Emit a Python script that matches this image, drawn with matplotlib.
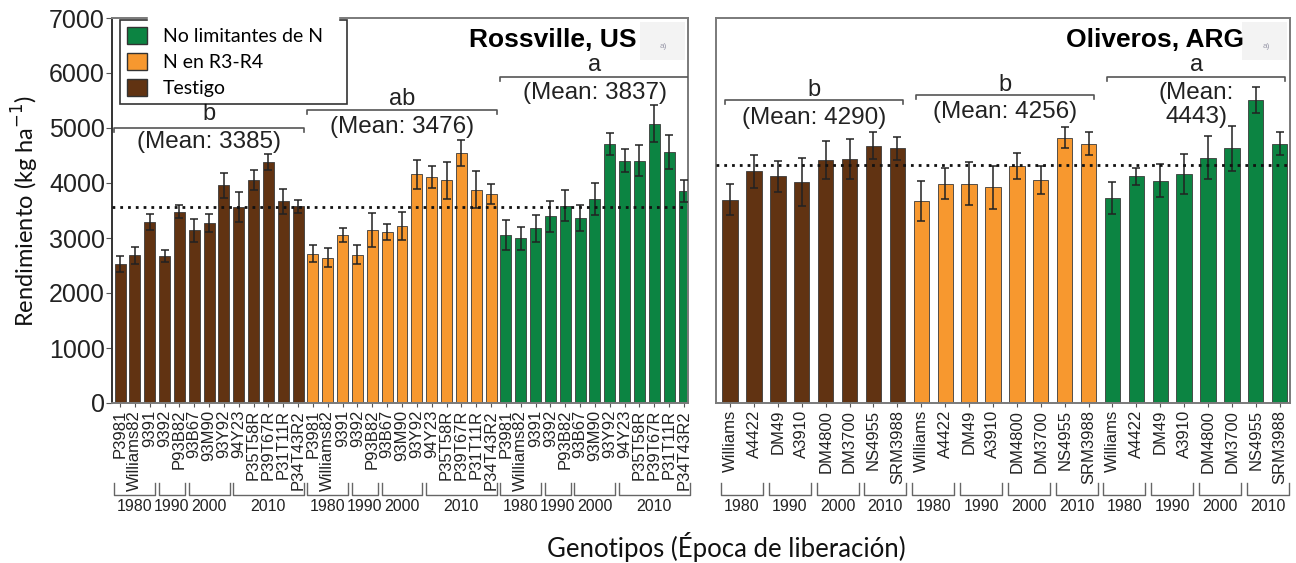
import matplotlib
matplotlib.use('Agg')
import matplotlib.pyplot as plt
import matplotlib.transforms as mtransforms
from matplotlib.patches import Patch, Rectangle

# ---- datos ----
tratamientos = ['Testigo', 'N en R3-R4', 'No limitantes de N']
colores = ['#613312', '#f7982f', '#0c8442']

genotipos_us = ['P3981', 'Williams82', '9391', '9392', 'P93B82', '93B67', '93M90',
                '93Y92', '94Y23', 'P35T58R', 'P39T67R', 'P31T11R', 'P34T43R2']
decadas_us = ['1980', '1990', '2000', '2010']
n_decada_us = [3, 2, 3, 5]
testigo_us = [2530, 2685, 3285, 2680, 3480, 3140, 3275, 3955, 3560, 4050, 4385, 3665, 3575]
testigo_us_err = [145, 150, 145, 110, 120, 210, 160, 225, 270, 180, 150, 225, 120]
nr3_us = [2715, 2640, 3055, 2695, 3140, 3105, 3210, 4160, 4110, 4050, 4545, 3880, 3800]
nr3_us_err = [150, 170, 125, 170, 310, 145, 255, 265, 195, 340, 240, 340, 190]
nolim_us = [3055, 2995, 3175, 3395, 3590, 3360, 3710, 4705, 4405, 4405, 5075, 4570, 3860]
nolim_us_err = [280, 205, 240, 280, 290, 240, 290, 200, 210, 280, 335, 310, 200]
letras_us = ['b', 'ab', 'a']
medias_us = ['(Mean: 3385)', '(Mean: 3476)', '(Mean: 3837)']
media_general_us = 3566

genotipos_arg = ['Williams', 'A4422', 'DM49', 'A3910', 'DM4800', 'DM3700', 'NS4955', 'SRM3988']
decadas_arg = ['1980', '1990', '2000', '2010']
n_decada_arg = [2, 2, 2, 2]
testigo_arg = [3695, 4210, 4125, 4025, 4410, 4435, 4680, 4635]
testigo_arg_err = [285, 300, 280, 435, 345, 370, 250, 210]
nr3_arg = [3675, 3990, 3990, 3925, 4305, 4050, 4825, 4715]
nr3_arg_err = [365, 285, 390, 390, 240, 255, 190, 205]
nolim_arg = [3720, 4120, 4040, 4160, 4460, 4630, 5510, 4715]
nolim_arg_err = [290, 150, 300, 360, 390, 410, 240, 210]
letras_arg = ['b', 'b', 'a']
medias_arg = ['(Mean: 4290)', '(Mean: 4256)', '(Mean:\n4443)']
media_general_arg = 4330

W, H = 1296, 563
fig = plt.figure(figsize=(W / 100, H / 100), dpi=100)
ax1 = fig.add_axes([112 / W, 160 / H, 576 / W, 385 / H])
ax2 = fig.add_axes([716 / W, 160 / H, 574 / W, 385 / H])

ARIAL = 'Liberation Sans'
GRIS = '#7a7a7a'


def panel(ax, genotipos, decadas, n_decada, series, errores, letras, medias, media,
          titulo, x_titulo, ancho, xlim, y_brk, y_let, y_med, brk_pad):
    n = len(genotipos)
    tr = mtransforms.blended_transform_factory(ax.transData, ax.transAxes)
    for g in range(3):
        xs = [g * n + i for i in range(n)]
        ax.bar(xs, series[g], width=ancho, color=colores[g], edgecolor='#3a3a3a',
               linewidth=0.6, zorder=2)
        ax.errorbar(xs, series[g], yerr=errores[g], fmt='none', ecolor='#222222',
                    elinewidth=1.1, capsize=3, capthick=1.1, zorder=3)
        # corchete con letra y media
        x0, x1 = g * n - brk_pad, g * n + n - 1 + brk_pad
        ax.plot([x0, x0, x1, x1], [y_brk[g] - 70, y_brk[g], y_brk[g], y_brk[g] - 70],
                color='#555555', lw=1.2, zorder=4)
        ax.text((x0 + x1) / 2, y_let[g], letras[g], ha='center', va='center',
                fontsize=17, family=ARIAL, color='#222222')
        ax.text((x0 + x1) / 2, y_med[g], medias[g], ha='center', va='center',
                fontsize=17.5, family=ARIAL, color='#222222', linespacing=1.1)
        # corchetes de decadas
        s = g * n
        for d, c in zip(decadas, n_decada):
            a, b = s - 0.38, s + c - 1 + 0.38
            ax.plot([a, a, b, b], [-0.208, -0.238, -0.238, -0.208], transform=tr,
                    color='#666666', lw=1.0, clip_on=False)
            ax.text((a + b) / 2, -0.268, d, transform=tr, ha='center', va='center',
                    fontsize=11.5, family=ARIAL, color='#222222')
            s += c
    ax.axhline(media, color='#111111', ls=(0, (1, 1.8)), lw=2, zorder=5)
    ax.set_xticks(range(3 * n))
    ax.set_xticklabels(genotipos * 3, rotation=90, fontsize=12, family=ARIAL,
                       color='#222222')
    ax.tick_params(axis='x', length=3, width=0.8, color='#555555', pad=2)
    ax.set_xlim(*xlim)
    ax.set_ylim(0, 7000)
    for sp in ax.spines.values():
        sp.set_color(GRIS)
        sp.set_linewidth(1.4)
    ax.text(x_titulo, 0.943, titulo, transform=ax.transAxes, ha='right', va='center',
            fontsize=19, fontweight='bold', family=ARIAL)
    ax.add_patch(Rectangle((0.917, 0.89), 0.078, 0.1, transform=ax.transAxes,
                           color='#f3f3f3', zorder=1, lw=0))
    ax.text(0.958, 0.925, 'a)', transform=ax.transAxes, ha='center', va='center',
            fontsize=6, color='#9a9aaa', family=ARIAL)


panel(ax1, genotipos_us, decadas_us, n_decada_us,
      [testigo_us, nr3_us, nolim_us], [testigo_us_err, nr3_us_err, nolim_us_err],
      letras_us, medias_us, media_general_us, 'Rossville, US', 0.911, 0.74, (-0.54, 38.27),
      [5000, 5327, 5927], [5255, 5527, 6145], [4745, 5018, 5636], 0.4)
panel(ax2, genotipos_arg, decadas_arg, n_decada_arg,
      [testigo_arg, nr3_arg, nolim_arg], [testigo_arg_err, nr3_arg_err, nolim_arg_err],
      letras_arg, medias_arg, media_general_arg, 'Oliveros, ARG', 0.92, 0.64, (-0.59, 23.43),
      [5509, 5600, 5927], [5691, 5782, 6145], [5182, 5291, 5420], 0.22)

ax1.spines['left'].set_color('#333333')
ax1.set_yticks(range(0, 7001, 1000))
ax1.set_yticklabels([str(v) for v in range(0, 7001, 1000)], fontsize=18, family=ARIAL,
                    color='#222222')
ax1.tick_params(axis='y', length=4, color='#555555', pad=1)
ax2.set_yticks([])

# hueco en el marco superior detras de la leyenda
fig.patches.append(Rectangle((148 / W, (H - 23) / H), 190 / W, 8 / H, transform=fig.transFigure,
                             color='white', zorder=10))

handles = [Patch(facecolor=colores[2], edgecolor='#333333', label=tratamientos[2]),
           Patch(facecolor=colores[1], edgecolor='#333333', label=tratamientos[1]),
           Patch(facecolor=colores[0], edgecolor='#333333', label=tratamientos[0])]
leg = ax1.legend(handles=handles, loc='upper left', bbox_to_anchor=(0.014, 0.5, 0.394, 0.495),
                 mode='expand', prop={'family': 'Lato', 'size': 14}, frameon=True,
                 fancybox=False, edgecolor='black', handlelength=1.05, handleheight=1.0,
                 handletextpad=0.8, labelspacing=0.4, borderpad=0.35, borderaxespad=0)
leg.get_frame().set_linewidth(1.2)
leg.set_zorder(20)

fig.text(25 / W, 1 - 211 / H, 'Rendimiento (kg ha$^{-1}$)', rotation=90, ha='center',
         va='center', fontsize=17, family='Lato', color='#111111')
fig.text(726 / W, 1 - 547 / H, 'Genotipos (Época de liberación)', ha='center',
         va='center', fontsize=18.5, family='Lato', color='#111111')

fig.savefig('out.png', dpi=100)
